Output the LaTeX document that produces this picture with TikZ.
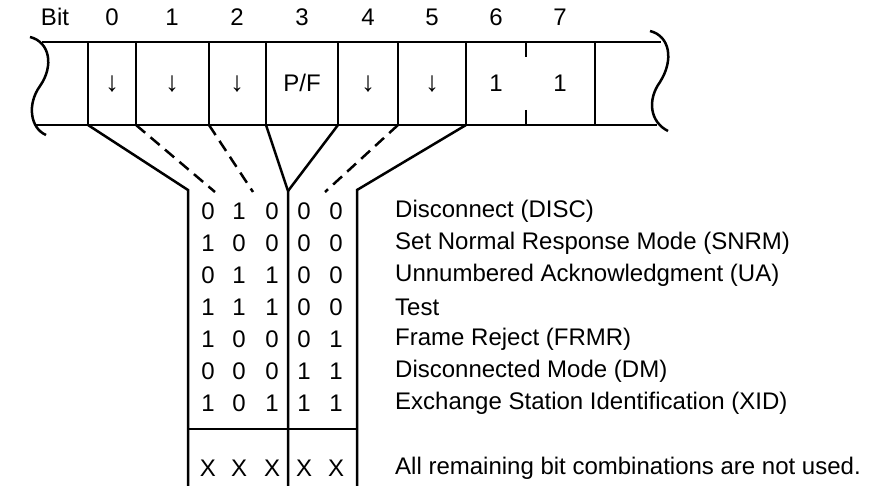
\documentclass[tikz,border=0pt]{standalone}
\usepackage{fontspec}
\setmainfont{Liberation Sans}
\begin{document}
\begin{tikzpicture}[x=1pt,y=-1pt,
  ln/.style={line width=2.5pt},
  dsh/.style={line width=2.5pt, dash pattern=on 12pt off 7pt},
  lbl/.style={font=\fontsize{24}{28}\selectfont, inner sep=0pt},
  arr/.style={font=\fontsize{28}{30}\selectfont, inner sep=0pt},
  txt/.style={lbl, anchor=west}]
\useasboundingbox (0,0) rectangle (882,486);

% ---- control field strip ----
\draw[ln] (42,42) -- (661,42);
\draw[ln] (36,125) -- (657,125);
% broken ends of the frame
\draw[ln] (30,37) .. controls (50,42) and (54,66) .. (40,86)
                  .. controls (27,104) and (30,128) .. (46,135);
\draw[ln] (650,31) .. controls (670,36) and (674,60) .. (660,82)
                  .. controls (647,100) and (650,122) .. (668,131);
% bit boundaries
\foreach \x [count=\i from 0] in {88,136,209,266,338,398,466,595} {
  \draw[ln] (\x,42) -- (\x,125);
  \coordinate (b\i) at (\x,125);
}
\draw[ln] (526,42) -- (526,57);
\draw[ln] (526,110) -- (526,125);

% bit numbers
\node[lbl] (bitlbl) at (55,17) {Bit};
\foreach \x/\t [count=\i from 0] in {112/0,172/1,237/2,302/3,368/4,432/5,496/6,560/7}
  \node[lbl] (n\i) at (\x,17) {\t};
% cell contents
\foreach \x [count=\i from 0] in {112,172,237}
  \node[arr] (c\i) at (\x,84) {↓};
\node[lbl] (c3) at (302,83) {P/F};
\node[arr] (c4) at (368,84) {↓};
\node[arr] (c5) at (432,84) {↓};
\node[lbl] (c6) at (496,83) {1};
\node[lbl] (c7) at (560,83) {1};

% ---- fan-out to the table ----
\coordinate (tl) at (188,190);
\coordinate (tm) at (288,191);
\coordinate (tr) at (357,190);
\coordinate (bl) at (188,486);
\coordinate (bm) at (288,486);
\coordinate (br) at (357,486);
\coordinate (d1) at (215,192);
\coordinate (d2) at (253,192);
\coordinate (d5) at (325,192);
\coordinate (hl) at (188,429);
\coordinate (hr) at (357,429);

\draw[ln] (b0) -- (tl) -- (bl);
\draw[dsh] (b1) -- (d1);
\draw[dsh] (b2) -- (d2);
\draw[ln] (b3) -- (tm) -- (bm);
\draw[ln] (b4) -- (tm);
\draw[dsh] (b5) -- (d5);
\draw[ln] (b6) -- (tr) -- (br);
\draw[ln] (hl) -- (hr);

% ---- command table ----
\foreach \r/\a/\b/\c/\d/\e/\name [count=\k from 0] in {
  0/0/1/0/0/0/Disconnect (DISC),
  1/1/0/0/0/0/Set Normal Response Mode (SNRM),
  2/0/1/1/0/0/Unnumbered Acknowledgment (UA),
  3/1/1/1/0/0/Test,
  4/1/0/0/0/1/Frame Reject (FRMR),
  5/0/0/0/1/1/Disconnected Mode (DM),
  6/1/0/1/1/1/Exchange Station Identification (XID),
  8/X/X/X/X/X/All remaining bit combinations are not used.} {
  \pgfmathsetmacro{\yy}{211+32.1*\r}
  \node[lbl] (r\k a) at (208,\yy) {\a};
  \node[lbl] (r\k b) at (239,\yy) {\b};
  \node[lbl] (r\k c) at (272,\yy) {\c};
  \node[lbl] (r\k d) at (304,\yy) {\d};
  \node[lbl] (r\k e) at (336,\yy) {\e};
  \node[txt] (r\k t) at (395,\yy) {\name};
}
\end{tikzpicture}
\end{document}
